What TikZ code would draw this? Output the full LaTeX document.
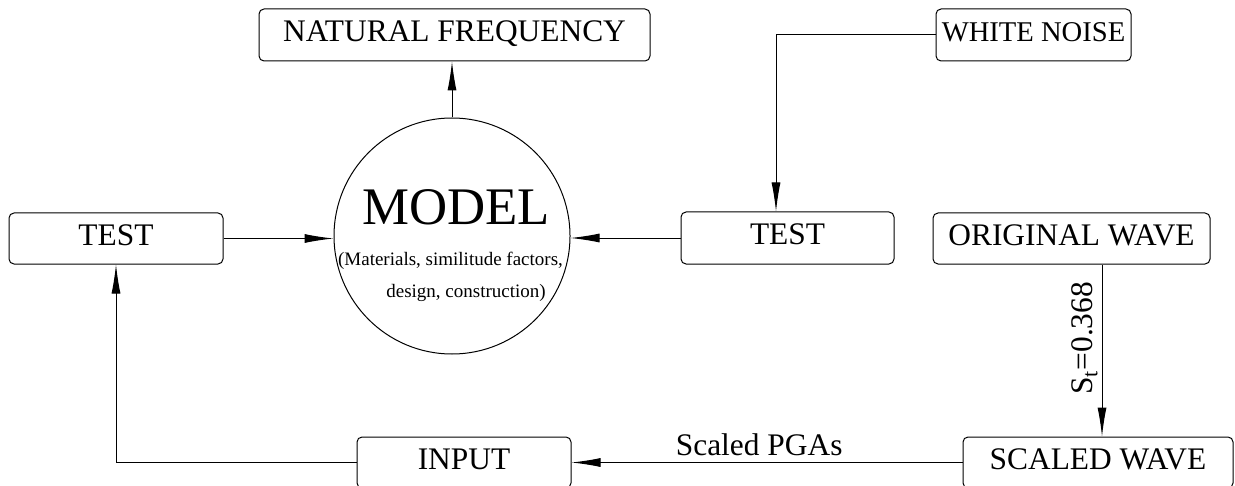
\documentclass[tikz,border=0pt]{standalone}
\usepackage{fontspec}
\setmainfont{Liberation Serif}
\usetikzlibrary{arrows.meta}

\newlength{\du}
\setlength{\du}{0.5pt}

\tikzset{
  stepbox/.style={draw, rounded corners=5\du, line width=1\du, inner sep=0pt,
    text height=0.66em, text depth=0pt, font=\fontsize{15.7}{18}\selectfont},
  link/.style={line width=0.5pt, -{Latex[length=14.5pt,width=4.5pt]}},
  tag/.style={font=\fontsize{15.7}{18}\selectfont}
}

\begin{document}
\begin{tikzpicture}
\pgftransformxscale{1.000000}
\pgftransformyscale{-1.000000}
\definecolor{dialinecolor}{rgb}{0.000000, 0.000000, 0.000000}
\useasboundingbox (0\du,0\du) rectangle (1235\du,486\du);

% boxes
\node[stepbox, minimum width=391\du, minimum height=52\du] (freq) at (454.5\du,35\du) {NATURAL FREQUENCY};
\node[stepbox, minimum width=195\du, minimum height=52\du, font=\fontsize{14.3}{17}\selectfont] (noise) at (1033.5\du,35\du) {WHITE NOISE};
\node[stepbox, minimum width=214\du, minimum height=51\du] (testL) at (116\du,238.5\du) {TEST};
\node[stepbox, minimum width=213\du, minimum height=52\du] (testR) at (787.5\du,238\du) {TEST};
\node[stepbox, minimum width=277\du, minimum height=51\du] (orig) at (1071.5\du,238.5\du) {ORIGINAL WAVE};
\node[stepbox, minimum width=214\du, minimum height=51\du] (input) at (464\du,462.5\du) {INPUT};
\node[stepbox, minimum width=270\du, minimum height=51\du] (scaled) at (1098\du,462.5\du) {SCALED WAVE};

% the model
\node[draw, circle, line width=1\du, minimum size=236\du, inner sep=0pt] (model) at (452\du,236\du) {};
\node[anchor=base, inner sep=0pt, font=\fontsize{26.4}{30}\selectfont] (modelname) at (456\du,225\du) {MODEL};
\node[anchor=base, inner sep=0pt, font=\fontsize{9.5}{11}\selectfont] (modelsubA) at (450.5\du,265\du) {(Materials, similitude factors,};
\node[anchor=base, inner sep=0pt, font=\fontsize{9.5}{11}\selectfont] (modelsubB) at (466\du,297\du) {design, construction)};

\coordinate (noisedrop) at ([xshift=-11.5\du]testR.north);
\coordinate (waveline) at ([xshift=4\du]scaled.north);

% links
\draw[link] (model.north) -- (model.north |- freq.south);
\draw[link] (testL.east) -- (testL.east -| model.west);
\draw[link] (testR.west) -- (testR.west -| model.east);
\draw[link] (noise.west) -| (noisedrop);
\draw[link] (waveline |- orig.south) -- node[tag, pos=0.43, anchor=south, rotate=90, inner sep=2pt] {S\textsubscript{t}=0.368} (waveline);
\draw[link] (scaled.west) -- node[tag, pos=0.52, above] {Scaled PGAs} (input.east);
\draw[link] (input.west) -| (testL.south);
\end{tikzpicture}
\end{document}
